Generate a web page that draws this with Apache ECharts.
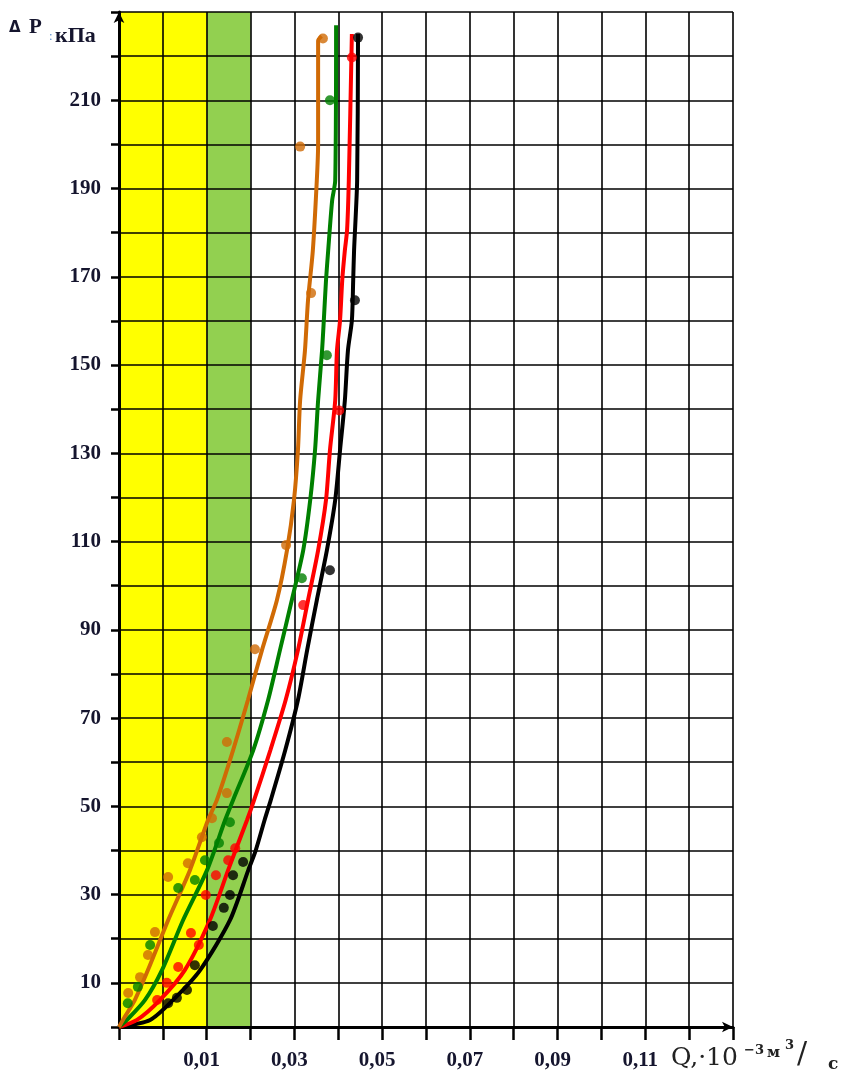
<!DOCTYPE html>
<html>
<head>
<meta charset="utf-8">
<script src="https://cdn.jsdelivr.net/npm/echarts@6/dist/echarts.min.js"></script>
<style>
html,body{margin:0;padding:0;background:#fff;}
#chart{width:853px;height:1078px;}
</style>
</head>
<body>
<div id="chart"></div>
<script>
// ---- axis ranges & tick labels ----
const xMin = -0.01, xMax = 0.13, xStep = 0.01;
const yMin = 0, yMax = 230, yStep = 10;
const xTickValues = [0.01, 0.03, 0.05, 0.07, 0.09, 0.11];
const xTickLabels = ['0,01', '0,03', '0,05', '0,07', '0,09', '0,11'];
const yTickValues = [10, 30, 50, 70, 90, 110, 130, 150, 170, 190, 210];

// ---- shaded bands (Q ranges) ----
const bandFrom = [-0.01, 0.01];
const bandTo = [0.01, 0.02];
const bandColors = ['#ffff00', '#92d050'];

// ---- fitted curves (Q, ΔP) ----
const orangeLineQ = [-0.0100, -0.0091, -0.0064, -0.0034, 0.0012, 0.0062, 0.0103, 0.0123, 0.0160, 0.0194, 0.0226, 0.0260, 0.0283, 0.0299, 0.0308, 0.0313, 0.0324, 0.0331, 0.0342, 0.0351, 0.0354, 0.0354, 0.0362];
const orangeLineP = [0, 1.6, 6.1, 12.9, 24.2, 35.6, 46.9, 51.4, 62.7, 74.1, 85.4, 96.7, 108.0, 119.4, 130.7, 142.0, 153.3, 164.7, 176.0, 191.8, 200.0, 223.5, 224.5];

const greenLineQ = [-0.0100, -0.0082, -0.0041, -0.0002, 0.0046, 0.0101, 0.0142, 0.0160, 0.0206, 0.0240, 0.0267, 0.0294, 0.0320, 0.0336, 0.0347, 0.0354, 0.0363, 0.0367, 0.0372, 0.0377, 0.0386, 0.0393, 0.0395];
const greenLineP = [0, 1.6, 6.1, 12.9, 24.2, 35.6, 46.9, 51.4, 62.7, 74.1, 85.4, 96.7, 108.0, 119.4, 130.7, 142.0, 153.3, 160.1, 169.2, 176.0, 187.3, 191.8, 227.0];

const redLineQ = [-0.0100, -0.0059, -0.0007, 0.0050, 0.0107, 0.0149, 0.0166, 0.0192, 0.0208, 0.0245, 0.0280, 0.0308, 0.0331, 0.0354, 0.0372, 0.0381, 0.0393, 0.0397, 0.0404, 0.0409, 0.0415, 0.0420, 0.0424, 0.0431];
const redLineP = [0, 1.6, 6.1, 12.9, 24.2, 35.6, 40.1, 46.9, 51.4, 62.7, 74.1, 85.4, 96.7, 108.0, 119.4, 130.7, 142.0, 153.3, 160.1, 169.2, 176.0, 180.5, 191.8, 225.0];

const blackLineQ = [-0.0100, -0.0029, 0.0023, 0.0085, 0.0153, 0.0195, 0.0212, 0.0232, 0.0246, 0.0279, 0.0308, 0.0329, 0.0351, 0.0374, 0.0393, 0.0404, 0.0415, 0.0422, 0.0431, 0.0434, 0.0436, 0.0443, 0.0445];
const blackLineP = [0, 1.6, 6.1, 12.9, 24.2, 35.6, 40.1, 46.9, 51.4, 62.7, 74.1, 85.4, 96.7, 108.0, 119.4, 130.7, 142.0, 153.3, 160.1, 169.2, 176.0, 191.8, 225.0];

// ---- measured points (Q, ΔP) ----
const orangePtsQ = [0.0365, 0.0313, 0.0338, 0.0281, 0.0210, 0.0146, 0.0146, 0.0112, 0.0089, 0.0057, 0.0012, -0.0018, -0.0034, -0.0052, -0.0079];
const orangePtsP = [224.0, 199.5, 166.3, 109.2, 85.6, 64.6, 53.0, 47.3, 43.0, 37.1, 34.0, 21.5, 16.3, 11.3, 7.7];

const greenPtsQ = [0.0381, 0.0374, 0.0317, 0.0153, 0.0128, 0.0096, 0.0073, 0.0035, -0.0029, -0.0057, -0.0080];
const greenPtsP = [210.0, 152.2, 101.7, 46.4, 41.7, 37.8, 33.3, 31.5, 18.6, 9.1, 5.4];

const redPtsQ = [0.0431, 0.0402, 0.0320, 0.0165, 0.0149, 0.0121, 0.0098, 0.0064, 0.0082, 0.0035, 0.0009, -0.0013];
const redPtsP = [219.7, 139.7, 95.6, 40.5, 37.8, 34.4, 29.9, 21.3, 18.6, 13.6, 10.0, 6.1];

const blackPtsQ = [0.0445, 0.0438, 0.0381, 0.0183, 0.0160, 0.0153, 0.0139, 0.0114, 0.0073, 0.0055, 0.0032, 0.0012];
const blackPtsP = [224.2, 164.7, 103.5, 37.4, 34.4, 29.9, 27.0, 22.9, 14.0, 8.4, 6.6, 5.4];

const colors = { orange: '#d06a05', green: '#008000', red: '#ff0000', black: '#000000' };

function zip(a, b) { return a.map((v, i) => [v, b[i]]); }
function near(v, arr) { return arr.findIndex(t => Math.abs(t - v) < 1e-6); }

const labelColor = '#15152e';

function lineSeries(q, p, c) {
  return {
    type: 'line', data: zip(q, p), showSymbol: false, symbol: 'none',
    smooth: 0.25, lineStyle: { color: c, width: 4 }, z: 3, silent: true
  };
}
function dotSeries(q, p, c) {
  return {
    type: 'scatter', data: zip(q, p), symbol: 'circle', symbolSize: 10,
    itemStyle: { color: c }, z: 4, silent: true
  };
}

const chart = echarts.init(document.getElementById('chart'), null, { renderer: 'canvas' });

const option = {
  animation: false,
  backgroundColor: '#ffffff',
  grid: { left: 119, right: 120, top: 12, bottom: 51, containLabel: false },
  xAxis: {
    type: 'value', min: xMin, max: xMax, interval: xStep, z: 1,
    axisLine: { show: true, onZero: false, lineStyle: { color: '#000', width: 3 }, symbol: ['none', 'arrow'], symbolSize: [8, 11] },
    axisTick: { show: true, inside: false, length: 13, lineStyle: { color: '#000', width: 2.5 } },
    splitLine: { show: true, lineStyle: { color: '#000', width: 1.6 } },
    axisLabel: {
      margin: 23, color: labelColor, fontFamily: 'Liberation Serif', fontWeight: 'bold', fontSize: 21,
      padding: [0, 10, 0, 0],
      formatter: v => { const i = near(v, xTickValues); return i >= 0 ? xTickLabels[i] : ''; }
    }
  },
  yAxis: {
    type: 'value', min: yMin, max: yMax, interval: yStep, z: 1,
    axisLine: { show: true, onZero: false, lineStyle: { color: '#000', width: 3 }, symbol: ['none', 'arrow'], symbolSize: [8, 11] },
    axisTick: { show: true, inside: false, length: 8, lineStyle: { color: '#000', width: 2.5 } },
    splitLine: { show: true, lineStyle: { color: '#000', width: 1.6 } },
    axisLabel: {
      margin: 18, color: labelColor, fontFamily: 'Liberation Serif', fontWeight: 'bold', fontSize: 21,
      formatter: v => (near(v, yTickValues) >= 0 ? String(v) : '')
    }
  },
  series: [
    {
      type: 'custom', z: 0, silent: true,
      data: bandFrom.map((f, i) => [f, bandTo[i]]),
      encode: { x: [0, 1] },
      renderItem: function (params, api) {
        const a = api.coord([api.value(0), yMax]);
        const b = api.coord([api.value(1), yMin]);
        return {
          type: 'rect',
          shape: { x: a[0], y: a[1], width: b[0] - a[0], height: b[1] - a[1] },
          style: { fill: bandColors[params.dataIndex] }
        };
      }
    },
    lineSeries(blackLineQ, blackLineP, colors.black),
    lineSeries(redLineQ, redLineP, colors.red),
    lineSeries(greenLineQ, greenLineP, colors.green),
    lineSeries(orangeLineQ, orangeLineP, colors.orange),
    dotSeries(blackPtsQ, blackPtsP, colors.black),
    dotSeries(redPtsQ, redPtsP, colors.red),
    dotSeries(greenPtsQ, greenPtsP, colors.green),
    dotSeries(orangePtsQ, orangePtsP, colors.orange)
  ],
  graphic: [
    { type: 'text', left: 9, top: 21, style: { text: 'Δ', fill: labelColor, font: 'bold 15px "DejaVu Sans"' } },
    { type: 'text', left: 29, top: 17, style: { text: 'P', fill: labelColor, font: 'bold 21px "Liberation Serif"' } },
    { type: 'text', left: 49, top: 30, style: { text: ':', fill: '#5b8fd0', font: '13px "Liberation Serif"' } },
    { type: 'text', left: 55, top: 25, style: { text: 'кПа', fill: labelColor, font: 'bold 22px "Liberation Serif"' } },

    { type: 'text', left: 671, top: 1046, style: { text: 'Q,·', fill: '#222', font: '25px "DejaVu Serif"' } },
    { type: 'text', left: 706, top: 1046, style: { text: '10', fill: '#222', font: '25px "DejaVu Serif"' } },
    { type: 'text', left: 744, top: 1044, style: { text: '−3', fill: '#222', font: 'bold 13px "DejaVu Serif"' } },
    { type: 'text', left: 767, top: 1046, style: { text: 'м', fill: '#222', font: 'bold 15px "DejaVu Serif"' } },
    { type: 'text', left: 785, top: 1039, style: { text: '3', fill: '#222', font: 'bold 13px "DejaVu Serif"' } },
    { type: 'text', left: 797, top: 1040, style: { text: '/', fill: '#222', font: '30px "DejaVu Serif"' } },
    { type: 'text', left: 828, top: 1056, style: { text: 'c', fill: '#222', font: 'bold 17px "DejaVu Serif"' } }
  ]
};
chart.setOption(option);
</script>
</body>
</html>
